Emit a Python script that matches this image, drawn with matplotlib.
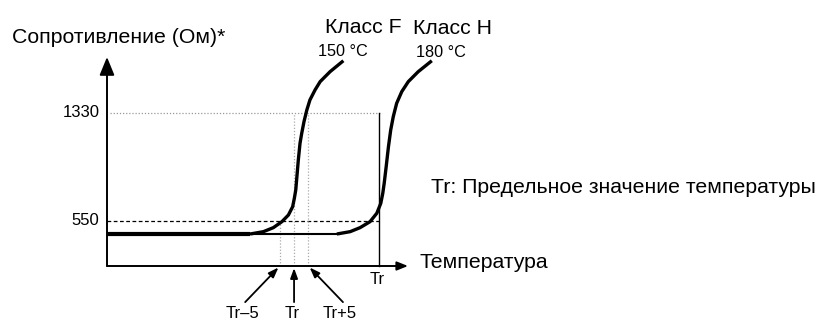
import matplotlib.pyplot as plt

plt.rcParams.update({
    "font.family": ["Liberation Sans", "DejaVu Sans"],
    "font.size": 12,
})

# class F curve: temperature (deg C) vs resistance (Ohm)
F_TEMP = [84.0, 134.5, 139.2, 142.7, 145.7, 148.0, 149.5, 150.1, 150.6, 150.9, 151.5,
          152.1, 152.7, 153.5, 154.5, 155.6, 157.4, 159.2, 162.7, 167.4]
F_RES = [456, 456, 473, 502, 545, 593, 653, 714, 774, 846, 990,
         1111, 1183, 1267, 1351, 1424, 1496, 1556, 1628, 1707]

# class H curve
H_FLAT_TEMP = [134.5, 165.1]
H_FLAT_RES = [456, 456]
H_TEMP = [165.1, 169.8, 173.3, 176.8, 179.2, 180.6, 181.3, 181.8, 182.5, 183.3, 184.1,
          185.0, 186.2, 188.0, 190.3, 193.8, 198.6]
H_RES = [456, 473, 502, 545, 606, 678, 750, 822, 942, 1086, 1207,
         1303, 1400, 1484, 1556, 1628, 1707]

T_MIN, T_MAX = 84.0, 190.2
R_MIN, R_MAX = 225, 1734
R_LOW, R_HIGH = 550, 1330
TR_F = 150
TR_H = 180
TR_MARKS = [145, 150, 155]
TR_LABELS = ["Tr\u20135", "Tr", "Tr+5"]

W, H = 817, 320
fig = plt.figure(figsize=(W / 100, H / 100), dpi=100)
ax = fig.add_axes([107 / W, 54 / H, 301 / W, 209 / H])
ax.set_xlim(T_MIN, T_MAX)
ax.set_ylim(R_MIN, R_MAX)
ax.set_axis_off()

narrow = ["Liberation Sans Narrow", "Liberation Sans", "DejaVu Sans"]
BIG, SMALL = 15.3, 12

# axes with arrow heads
ax.annotate("", xy=(T_MIN, R_MAX), xytext=(T_MIN, R_MIN),
            arrowprops=dict(arrowstyle="-|>,head_length=1.1,head_width=0.45",
                            mutation_scale=10, lw=1.4, color="black",
                            shrinkA=0, shrinkB=0))
ax.annotate("", xy=(T_MAX, R_MIN), xytext=(T_MIN, R_MIN),
            arrowprops=dict(arrowstyle="-|>,head_length=0.65,head_width=0.26",
                            mutation_scale=10, lw=1.4, color="black",
                            shrinkA=0, shrinkB=0))

# guide lines
ax.plot([T_MIN + 1, TR_H + 1], [R_HIGH, R_HIGH], color="#999999", lw=0.9,
        ls=(0, (1, 1.5)), clip_on=False)
ax.plot([T_MIN, TR_H], [R_LOW, R_LOW], color="black", lw=0.9,
        ls=(0, (3, 2)), clip_on=False)
ax.plot([TR_H, TR_H], [R_MIN, R_HIGH], color="black", lw=1.0, clip_on=False)
ax.plot([TR_MARKS[0]] * 2, [R_MIN, R_LOW], color="#aaaaaa", lw=0.9,
        ls=(0, (1, 1.5)))
for t in TR_MARKS[1:]:
    ax.plot([t, t], [R_MIN, R_HIGH], color="#aaaaaa", lw=0.9, ls=(0, (1, 1.5)))

# curves
ax.plot(F_TEMP[:2], F_RES[:2], color="black", lw=3.0, solid_capstyle="butt",
        clip_on=False)
ax.plot(F_TEMP[1:], F_RES[1:], color="black", lw=2.4, solid_capstyle="butt",
        solid_joinstyle="round", clip_on=False)
ax.plot(H_FLAT_TEMP, H_FLAT_RES, color="black", lw=1.5, solid_capstyle="butt",
        clip_on=False)
ax.plot(H_TEMP, H_RES, color="black", lw=2.4, solid_capstyle="butt",
        solid_joinstyle="round", clip_on=False)

# y tick labels
for r in [R_HIGH, R_LOW]:
    ax.annotate(str(r), xy=(T_MIN, r), xytext=(-5.5, 0), textcoords="offset points",
                ha="right", va="center", fontsize=SMALL)

# Tr mark under the x axis for class H
ax.annotate("Tr", xy=(TR_H, R_MIN), xytext=(-1.5, -10), textcoords="offset points",
            ha="center", va="center", fontsize=SMALL, family=narrow)

# Tr-5 / Tr / Tr+5 arrows
tails = [(-25, -26), (0, -26), (25, -26)]
label_pos = [(-27, -34), (-1.5, -34), (23, -34)]
for t, lab, tail, lp in zip(TR_MARKS, TR_LABELS, tails, label_pos):
    ax.annotate("", xy=(t, R_MIN), xytext=tail, textcoords="offset points",
                arrowprops=dict(arrowstyle="-|>,head_length=0.6,head_width=0.22",
                                mutation_scale=10, lw=1.3, color="black",
                                shrinkA=0, shrinkB=1.5))
    ax.annotate(lab, xy=(t, R_MIN), xytext=lp, textcoords="offset points",
                ha="center", va="center", fontsize=SMALL, family=narrow)


def fig_text(x, y, s, size, **kw):
    fig.text(x / W, 1 - y / H, s, fontsize=size, va="baseline", **kw)


fig_text(12, 43, "Сопротивление (Ом)*", BIG)
fig_text(325, 33, "Класс F", BIG)
fig_text(413, 34, "Класс H", BIG)
fig_text(318, 56, "150 °C", 11.7)
fig_text(416, 57, "180 °C", 11.7)
fig_text(431, 193, "Tr: Предельное значение температуры", BIG)
fig_text(420, 268, "Температура", BIG)

fig.savefig("out.png", dpi=100, facecolor="white")
